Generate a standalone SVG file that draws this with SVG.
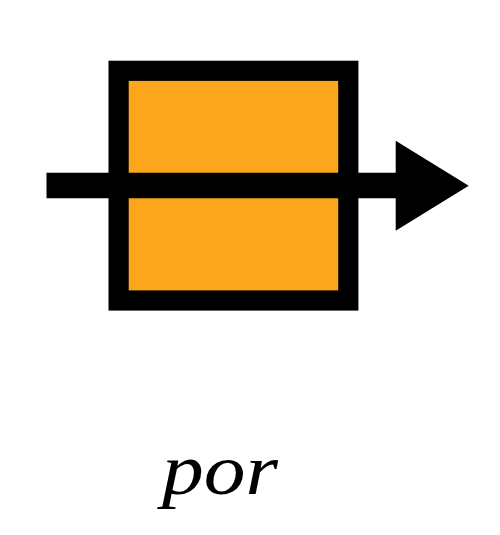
<svg xmlns="http://www.w3.org/2000/svg" width="500" height="535" viewBox="0 0 500 535">
  <style>
    .box { fill: #fca61c; stroke: #000; stroke-width: 20.2; }
    .arrow { fill: #000; }
    .label { font-family: "Liberation Serif", "DejaVu Serif", serif; font-style: italic; font-size: 72px; fill: #000; }
  </style>
  <rect width="500" height="535" fill="#fff"/>
  <g id="node-box">
    <rect class="box" x="118.6" y="70.8" width="229.7" height="229.7"/>
  </g>
  <g id="connectors">
    <path class="arrow" d="M46.5 172.7H395.7V140.7L468.7 185.7L395.7 230.7V198.3H46.5Z"/>
  </g>
  <g id="node-label">
    <text class="label" x="162" y="494" textLength="116" lengthAdjust="spacingAndGlyphs">por</text>
  </g>
</svg>
